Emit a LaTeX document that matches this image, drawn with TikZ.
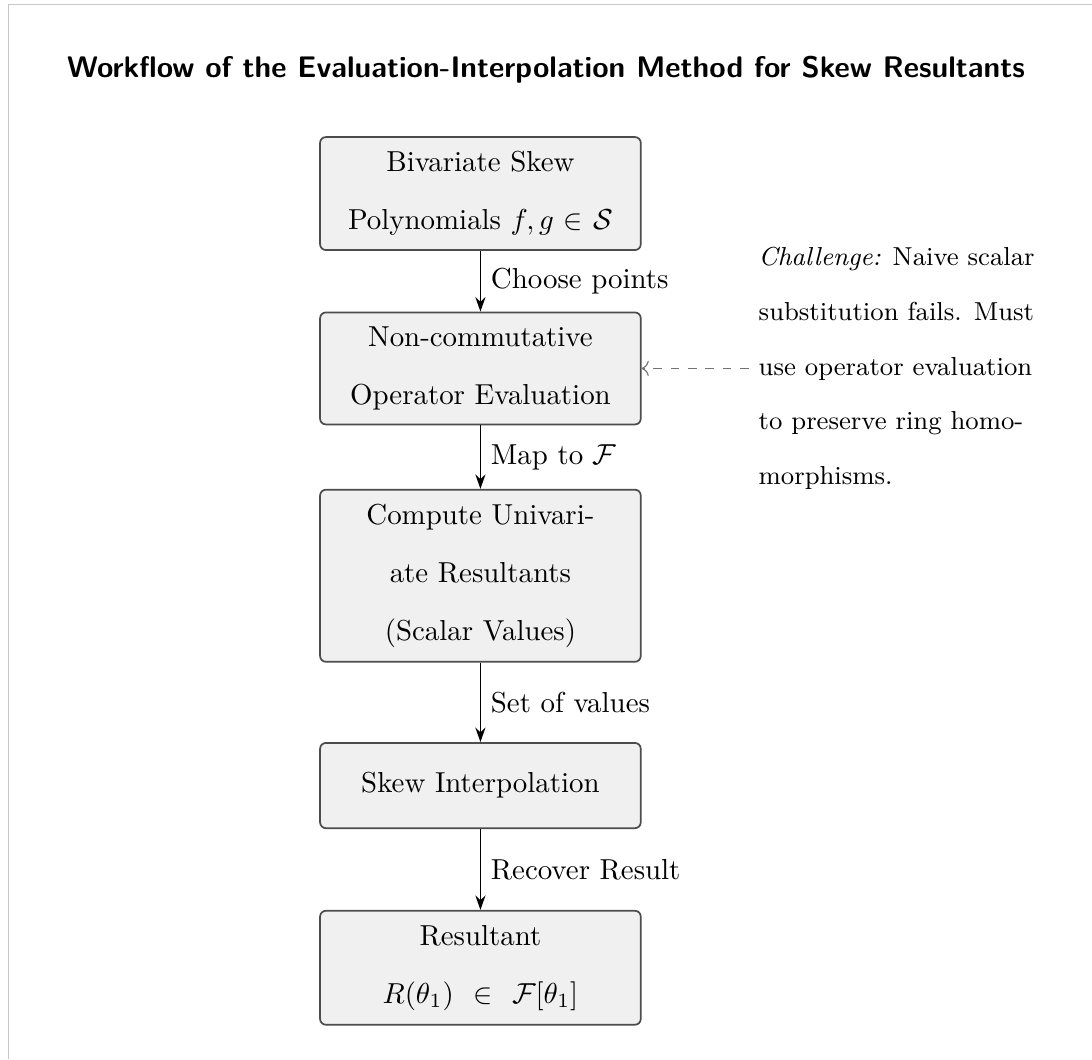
\documentclass[tikz,border=0pt]{standalone}
\usepackage{amsmath,amssymb}
\usetikzlibrary{positioning,arrows.meta}
\tikzset{
  procbox/.style={draw=black!70, fill=black!6, rounded corners=2pt, semithick,
    text width=101pt, align=center, inner sep=5pt, minimum height=29.5pt,
    font=\fontsize{10}{20}\selectfont},
  remark/.style={align=left, font=\fontsize{9}{19}\selectfont},
  flowarr/.style={-{Stealth[length=5pt,width=3.5pt]}, semithick},
  remarkarr/.style={->, dashed, black!55, thin},
}
\begin{document}
\begin{tikzpicture}
    \useasboundingbox (0,0) rectangle (378pt,-366.6pt);
    \draw[black!22, line width=0.4pt] (2.8pt,-366.6pt) |- (378pt,-1.7pt);
    \node[anchor=base, font=\fontsize{10.3}{12}\sffamily\bfseries] (title) at (189pt,-27pt)
        {Workflow of the Evaluation-Interpolation Method for Skew Resultants};
    % main chain
    \node[procbox] (bivar) at (166.3pt,-67pt) {Bivariate Skew\\Polynomials $f, g \in \mathcal{S}$};
    \node[procbox, below=21pt of bivar] (opeval) {Non-commutative\\Operator Evaluation};
    \node[procbox, below=22pt of opeval] (univar) {Compute Univari-\\ate Resultants\\(Scalar Values)};
    \node[procbox, below=27.5pt of univar] (interp) {Skew Interpolation};
    \node[procbox, below=28pt of interp] (result) {Resultant\\$R(\theta_1) \,\in\, \mathcal{F}[\theta_1]$};
    \draw[flowarr] (bivar) -- node[right]{Choose points} (opeval);
    \draw[flowarr] (opeval) -- node[right]{Map to $\mathcal{F}$} (univar);
    \draw[flowarr] (univar) -- node[right]{Set of values} (interp);
    \draw[flowarr] (interp) -- node[right]{Recover Result} (result);
    % side remark
    \node[remark, right=37pt of opeval] (challenge) {\emph{Challenge:} Naive scalar\\substitution fails. Must\\use operator evaluation\\to preserve ring homo-\\morphisms.};
    \draw[remarkarr] (challenge) -- (opeval);
\end{tikzpicture}
\end{document}
